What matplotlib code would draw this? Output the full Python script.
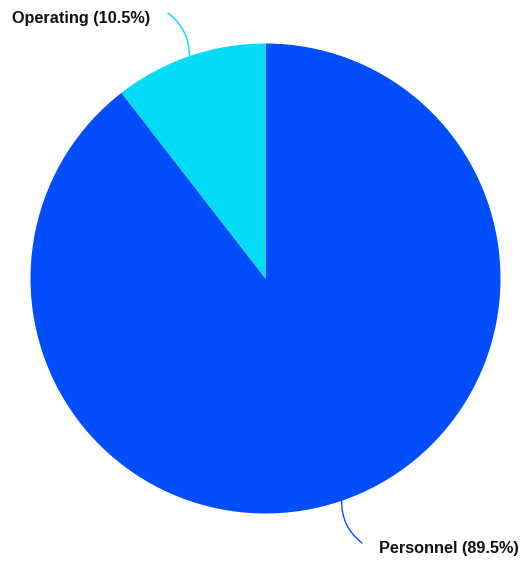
import matplotlib
matplotlib.use("Agg")
import matplotlib.pyplot as plt
import numpy as np

# Budget split shown in the reference
categories = ["Personnel", "Operating"]
shares = [89.5, 10.5]
colors = ["#034efc", "#02dcf6"]

plt.rcParams["font.family"] = ["Liberation Sans", "DejaVu Sans"]

W, H = 522, 561
fig = plt.figure(figsize=(W / 100, H / 100), dpi=100)
ax = fig.add_axes([0, 0, 1, 1])

center = (265.5, H - 278.5)
radius = 235
wedges, _ = ax.pie(
    shares,
    colors=colors,
    startangle=90,
    counterclock=False,
    center=center,
    radius=radius,
    wedgeprops=dict(linewidth=0),
)

# label positions and leader-line ends (pixel coords, y from top)
label_pos = {"Personnel": (379, 548), "Operating": (150, 18)}
line_end = {"Personnel": (362, 543), "Operating": (168, 13)}
rads = {"Personnel": 0.25, "Operating": 0.25}

for w, name, val, col in zip(wedges, categories, shares, colors):
    mid = np.deg2rad((w.theta1 + w.theta2) / 2)
    edge = (center[0] + radius * np.cos(mid), center[1] + radius * np.sin(mid))
    end = (line_end[name][0], H - line_end[name][1])
    ha = "left" if name == "Personnel" else "right"
    ax.annotate(
        "",
        xy=end,
        xytext=edge,
        arrowprops=dict(arrowstyle="-", color=col, lw=1.0,
                        connectionstyle=f"arc3,rad={rads[name]}",
                        shrinkA=0, shrinkB=0),
    )
    ax.text(label_pos[name][0], H - label_pos[name][1], f"{name} ({val}%)",
            ha=ha, va="center", fontsize=11.7, fontweight="bold", color="#111111")

ax.set_xlim(0, W)
ax.set_ylim(0, H)
ax.set_aspect("auto")
ax.axis("off")

fig.savefig("out.png", dpi=100)
